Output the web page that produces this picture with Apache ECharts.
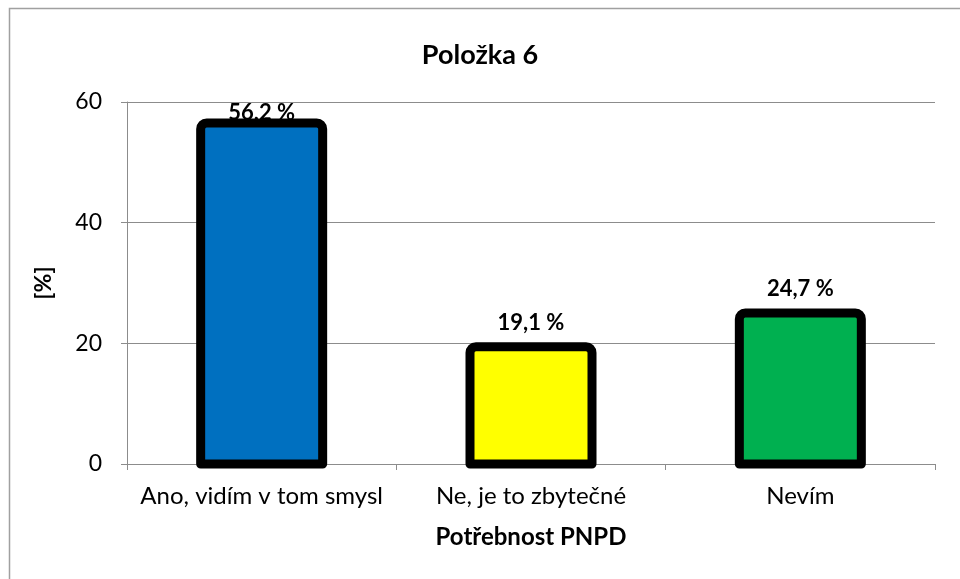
<!DOCTYPE html>
<html>
<head>
<meta charset="utf-8">
<script src="https://cdn.jsdelivr.net/npm/echarts@6/dist/echarts.min.js"></script>
<style>
  html, body { margin: 0; padding: 0; background: #fff; }
  #chart { width: 960px; height: 579px; }
</style>
</head>
<body>
<div id="chart"></div>
<script>
// data
const categories = ['Ano, vidím v tom smysl', 'Ne, je to zbytečné', 'Nevím'];
const shares = [56.2, 19.1, 24.7];
const barColors = ['#0070C0', '#FFFF00', '#00B050'];
const yTicks = [0, 20, 40, 60];

const fontFam = 'Lato, "Liberation Sans", sans-serif';

var chartDom = document.getElementById('chart');
var myChart = echarts.init(chartDom);

// custom bars so the thick border sits centred on the bar edge (as in Excel)
function renderBar(params, api) {
    let idx = api.value(0);
    let val = api.value(1);
    let top = api.coord([idx, val]);
    let base = api.coord([idx, 0]);
    let w = 122;
    // Excel squeezes the tallest label down onto the bar
    let lblY = idx === 0 ? top[1] - 12 : top[1] - 26;
    return {
        type: 'group',
        children: [{
            type: 'rect',
            shape: { x: top[0] - w / 2, y: top[1] - 2, width: w, height: base[1] - top[1] + 2, r: [6, 6, 0, 0] },
            style: { fill: barColors[idx], stroke: '#000', lineWidth: 9, lineJoin: 'round' }
        }, {
            type: 'text',
            style: {
                text: val.toFixed(1).replace('.', ',') + ' %',
                x: top[0], y: lblY,
                align: 'center', verticalAlign: 'middle',
                fontFamily: fontFam, fontSize: 22, fontWeight: 'bold', fill: '#000'
            }
        }]
    };
}

let option = {
    backgroundColor: '#fff',
    animation: false,
    title: {
        text: 'Položka 6',
        left: 'center',
        top: 37,
        textStyle: { fontFamily: fontFam, fontSize: 27, fontWeight: 'bold', color: '#000' }
    },
    graphic: [{
        type: 'rect',
        shape: { x: 9.5, y: 8.5, width: 2000, height: 2000 },
        style: { fill: 'none', stroke: '#a0a0a0', lineWidth: 1.5 },
        silent: true
    }],
    grid: { left: 127, right: 25, top: 102, bottom: 115 },
    xAxis: {
        type: 'category',
        data: categories,
        name: 'Potřebnost PNPD',
        nameLocation: 'middle',
        nameGap: 61,
        nameTextStyle: { fontFamily: fontFam, fontSize: 24, fontWeight: 'bold', color: '#000' },
        axisLine: { lineStyle: { color: '#8c8c8c' } },
        axisTick: { show: true, length: 6, lineStyle: { color: '#8c8c8c' } },
        axisLabel: { interval: 0, hideOverlap: false, fontFamily: fontFam, fontSize: 24, color: '#000', margin: 20 }
    },
    yAxis: {
        type: 'value',
        min: yTicks[0],
        max: yTicks[yTicks.length - 1],
        interval: 20,
        name: '[%]',
        nameLocation: 'middle',
        nameGap: 72,
        nameRotate: 90,
        nameTextStyle: { fontFamily: fontFam, fontSize: 23, fontWeight: 'bold', color: '#000' },
        axisLine: { show: true, lineStyle: { color: '#8c8c8c' } },
        axisTick: { show: true, length: 6, lineStyle: { color: '#8c8c8c' } },
        axisLabel: { fontFamily: fontFam, fontSize: 23, color: '#000', margin: 25 },
        splitLine: { lineStyle: { color: '#8c8c8c' } }
    },
    series: [{
        type: 'custom',
        renderItem: renderBar,
        encode: { x: 0, y: 1 },
        data: shares.map((v, i) => [i, v]),
        z: 3
    }]
};

option && myChart.setOption(option);
</script>
</body>
</html>
